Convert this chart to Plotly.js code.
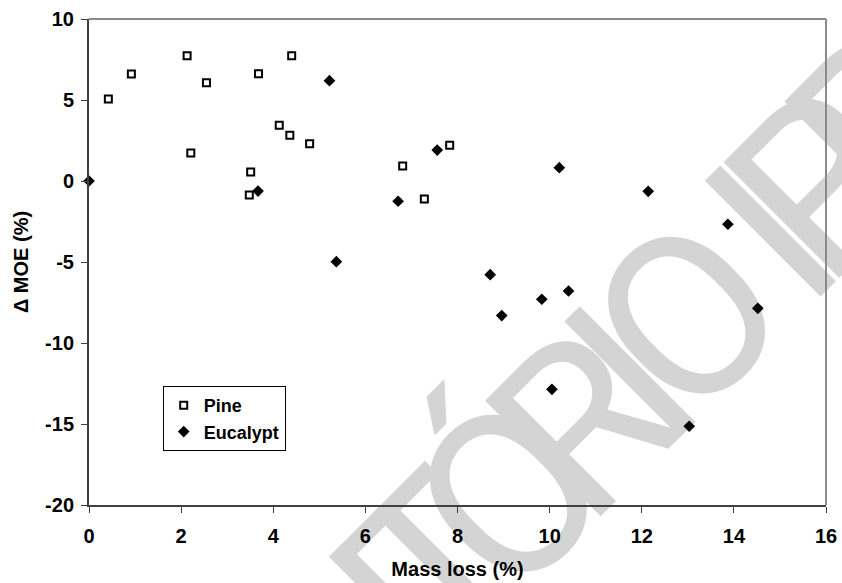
<!DOCTYPE html>
<html>
<head>
<meta charset="utf-8">
<script src="https://cdn.plot.ly/plotly-3.0.1.min.js"></script>
<style>
  html, body { margin: 0; padding: 0; background: #fff; }
  #chart { width: 842px; height: 583px; }
</style>
</head>
<body>
<div id="chart"></div>
<script>
// ---- data ----
const pineX = [0.42, 0.92, 2.13, 2.21, 2.55, 3.48, 3.51, 3.68, 4.13, 4.36, 4.40, 4.79, 6.81, 7.28, 7.83];
const pineY = [5.06, 6.60, 7.73, 1.73, 6.07, -0.86, 0.56, 6.62, 3.44, 2.82, 7.73, 2.30, 0.93, -1.11, 2.20];

const eucX = [0, 3.67, 5.22, 5.37, 6.71, 7.56, 8.71, 8.96, 9.83, 10.05, 10.21, 10.41, 12.14, 13.03, 13.87, 14.52];
const eucY = [0, -0.62, 6.19, -4.98, -1.25, 1.91, -5.78, -8.31, -7.30, -12.86, 0.82, -6.79, -0.64, -15.14, -2.67, -7.86];

const xTicks = [0, 2, 4, 6, 8, 10, 12, 14, 16];
const yTicks = [-20, -15, -10, -5, 0, 5, 10];

const seriesNames = ['Pine', 'Eucalypt'];
const xTitle = 'Mass loss (%)';
const yTitle = '\u0394 MOE (%)';

// watermark letters (decoration from the scanned source)
const wmLetters = ['I', 'T', '\u00D3', 'R', 'I', 'O', 'I', 'P', 'B'];
const wmAlong = [-333, -271, -172, -71, 0, 80, 199, 268, 353];

// ---- layout constants ----
const W = 842, H = 583;
const M = { l: 89, r: 16, t: 19, b: 78 };
const plotW = W - M.l - M.r, plotH = H - M.t - M.b;
const FONT = 'Liberation Sans, Arial, sans-serif';

const traces = [
  {
    x: pineX, y: pineY, name: seriesNames[0], type: 'scatter', mode: 'markers',
    cliponaxis: false,
    marker: { symbol: 'square-open', size: 7, color: '#000', line: { width: 2, color: '#000' } }
  },
  {
    x: eucX, y: eucY, name: seriesNames[1], type: 'scatter', mode: 'markers',
    cliponaxis: false,
    marker: { symbol: 'diamond', size: 9, color: '#000' }
  }
];

const shapes = [];
const wmShift = -18;
wmLetters.forEach((ch, i) => {
  const a = wmAlong[i];
  const px = 638 + 0.7071 * a + wmShift, py = 380 - 0.7071 * a + wmShift;
  const xp = (px - M.l) / plotW, yp = (H - M.b - py) / plotH;
  shapes.push({
    type: 'rect', xref: 'paper', yref: 'paper', layer: 'below',
    x0: xp - 0.001, x1: xp + 0.001, y0: yp - 0.001, y1: yp + 0.001,
    line: { width: 0 }, fillcolor: 'rgba(0,0,0,0)',
    label: {
      text: ch, textangle: -45, textposition: 'middle center',
      xanchor: 'center', yanchor: 'middle',
      font: { family: 'Roboto, Liberation Sans, sans-serif', size: 230, weight: 400, color: '#d4d4d4' }
    }
  });
});
// top and right frame lines (grey)
shapes.push({ type: 'line', xref: 'paper', yref: 'paper', x0: 0, x1: 1, y0: 1, y1: 1, line: { color: '#8a8a8a', width: 2 } });
shapes.push({ type: 'line', xref: 'paper', yref: 'paper', x0: 1, x1: 1, y0: 0, y1: 1, line: { color: '#8a8a8a', width: 2 } });

const layout = {
  width: W, height: H,
  margin: M,
  paper_bgcolor: '#fff', plot_bgcolor: 'rgba(0,0,0,0)',
  font: { family: FONT, color: '#000' },
  showlegend: true,
  legend: {
    x: 0.1, y: 0.245, xanchor: 'left', yanchor: 'top',
    bgcolor: '#fff', bordercolor: '#000', borderwidth: 1,
    itemwidth: 30,
    font: { family: FONT, size: 18, weight: 'bold', color: '#000' }
  },
  xaxis: {
    range: [0, 16], tickvals: xTicks, ticktext: xTicks.map(String),
    showgrid: false, zeroline: false,
    showline: true, linecolor: '#404040', linewidth: 2,
    ticks: 'outside', ticklen: 6, tickwidth: 1, tickcolor: '#404040',
    ticklabelstandoff: 6,
    tickfont: { family: FONT, size: 20, weight: 'bold', color: '#000' },
    title: { text: xTitle, standoff: 16, font: { family: FONT, size: 20, weight: 'bold', color: '#000' } },
    fixedrange: true
  },
  yaxis: {
    range: [-20, 10], tickvals: yTicks, ticktext: yTicks.map(String),
    showgrid: false, zeroline: false,
    showline: true, linecolor: '#404040', linewidth: 2,
    ticks: 'outside', ticklen: 6, tickwidth: 1, tickcolor: '#404040',
    ticklabelstandoff: 3,
    tickfont: { family: FONT, size: 20, weight: 'bold', color: '#000' },
    title: { text: yTitle, standoff: 11, font: { family: FONT, size: 20, weight: 'bold', color: '#000' } },
    fixedrange: true
  },
  shapes: shapes
};

Plotly.newPlot('chart', traces, layout, { staticPlot: true, displayModeBar: false });
</script>
</body>
</html>
